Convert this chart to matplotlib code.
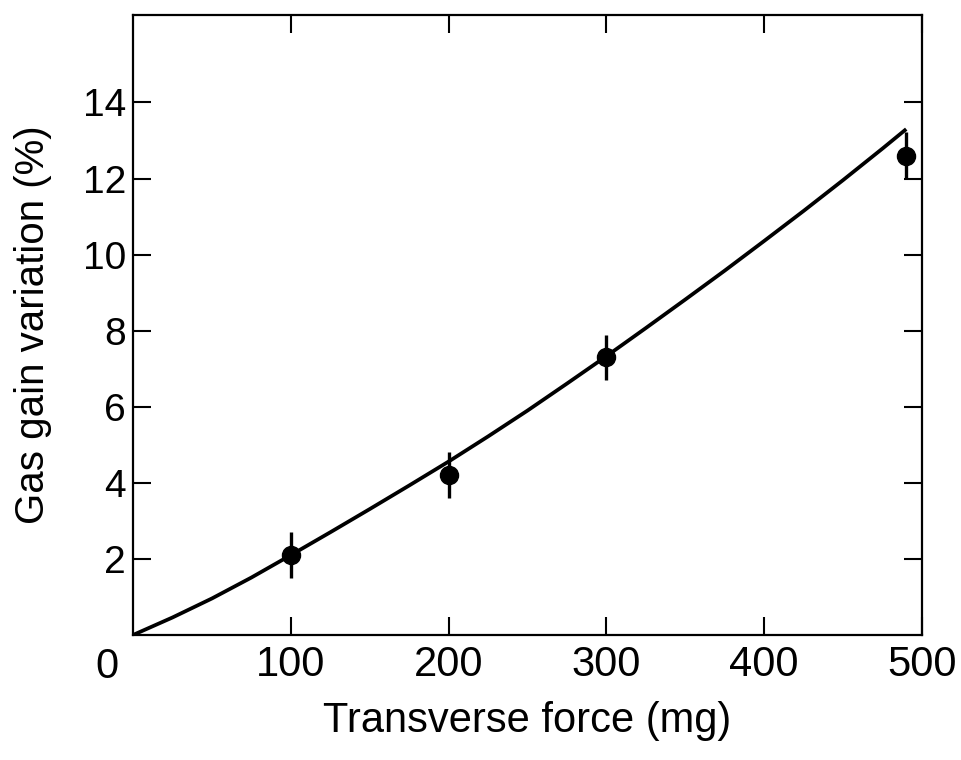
import matplotlib
matplotlib.use("Agg")
import matplotlib.pyplot as plt
import matplotlib.transforms as mtransforms

# Measured points
force = [100, 200, 300, 490]
gain_var = [2.1, 4.2, 7.3, 12.6]
gain_err = [0.6, 0.6, 0.6, 0.62]

# Fitted curve
curve_x = [0, 25, 50, 75, 100, 125, 150, 175, 200, 225, 250, 275, 300,
           325, 350, 375, 400, 425, 450, 475, 490]
curve_y = [0, 0.46, 0.96, 1.51, 2.1, 2.7, 3.31, 3.93, 4.56, 5.22, 5.9,
           6.61, 7.33, 8.07, 8.82, 9.58, 10.36, 11.15, 11.96, 12.79, 13.3]

xticks = [100, 200, 300, 400, 500]
yticks = [2, 4, 6, 8, 10, 12, 14]

plt.rcParams['font.family'] = ['Liberation Sans', 'DejaVu Sans']

fig = plt.figure(figsize=(9.61, 7.6), dpi=100)
ax = fig.add_axes([133/961, 125/760, (922-133)/961, (635-15)/760])

ax.plot(curve_x, curve_y, color='black', lw=2.7, solid_capstyle='butt',
        solid_joinstyle='round')
ax.errorbar(force, gain_var, yerr=gain_err, fmt='o', color='black',
            ms=13, elinewidth=2.4, capsize=0)

ax.set_xlim(0, 500)
ax.set_ylim(0, 16.3)
ax.set_xticks(xticks)
ax.set_yticks(yticks)
ax.tick_params(direction='in', length=13, width=1.5,
               top=True, right=True)
ax.tick_params(axis='x', labelsize=30, pad=7)
ax.tick_params(axis='y', labelsize=28, pad=5)
for s in ax.spines.values():
    s.set_linewidth(1.6)

# Origin label "0" placed below-left of the corner
trans = mtransforms.offset_copy(ax.transData, fig=fig, x=-26, y=-12, units='dots')
ax.text(0, 0, "0", transform=trans, ha='center', va='top', fontsize=30)

ax.set_xlabel("Transverse force (mg)", fontsize=30, labelpad=12)
ax.set_ylabel("Gas gain variation (%)", fontsize=29, labelpad=22)

fig.savefig("out.png", dpi=100)
